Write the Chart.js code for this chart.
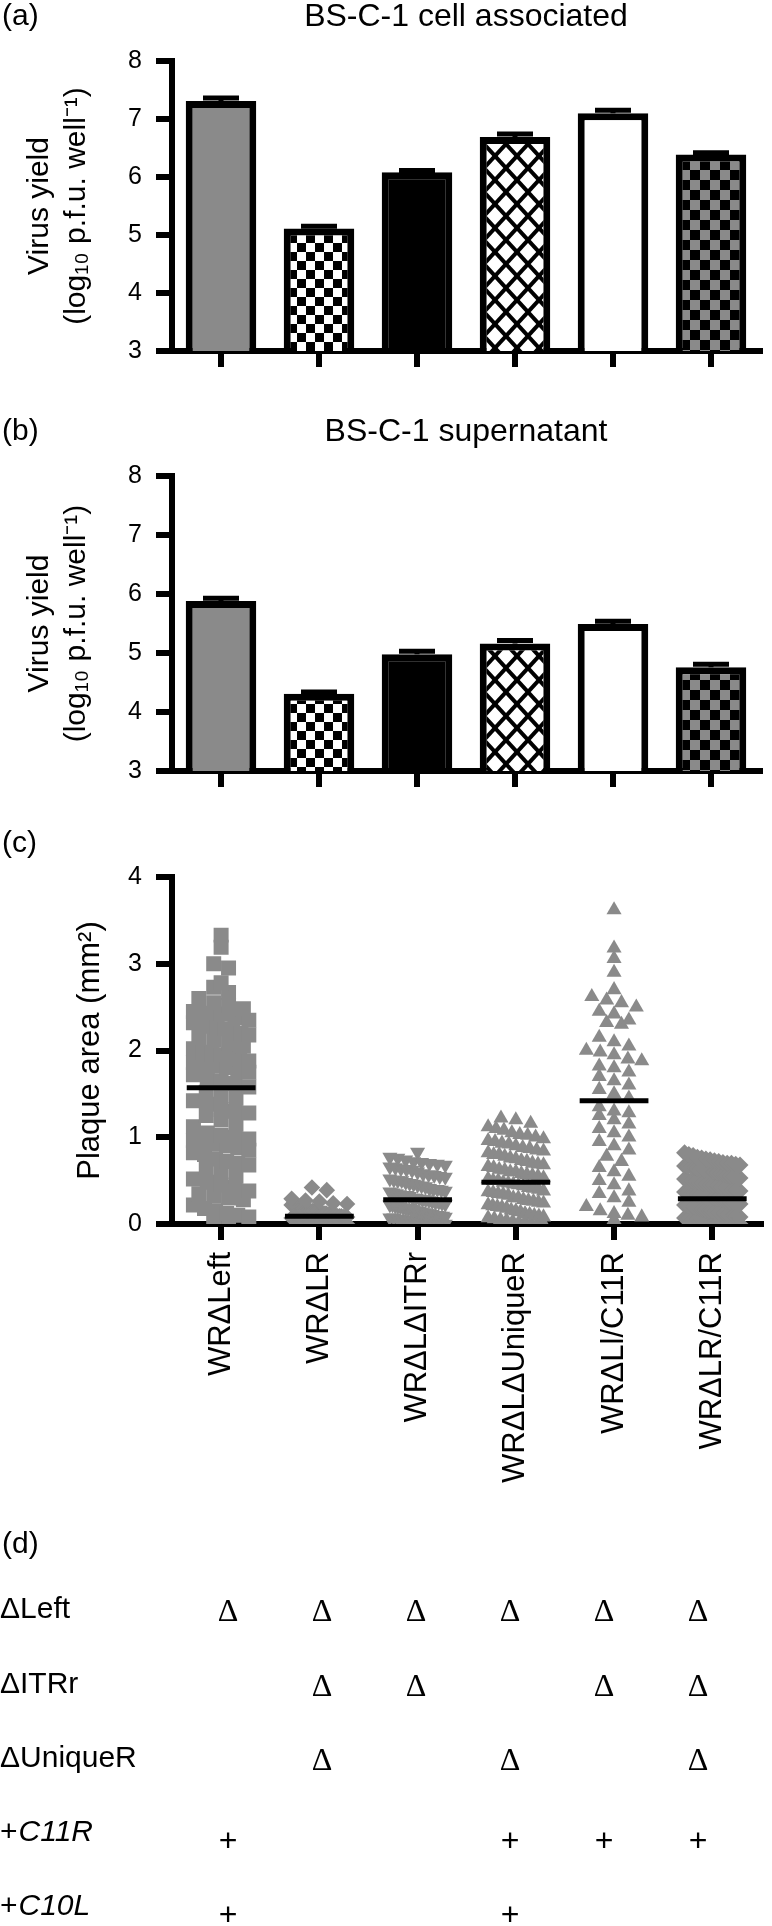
<!DOCTYPE html>
<html>
<head>
<meta charset="utf-8">
<script src="https://cdn.jsdelivr.net/npm/chart.js@4.4.1/dist/chart.umd.min.js"></script>
<style>
  html, body { margin: 0; padding: 0; background: #fff; }
  body { width: 772px; height: 1926px; position: relative; overflow: hidden; }
  canvas { position: absolute; left: 0; }
</style>
</head>
<body>
<canvas id="cellChart" width="772" height="380" style="top:0"></canvas>
<canvas id="supChart" width="772" height="420" style="top:380px"></canvas>
<canvas id="plaqueChart" width="772" height="700" style="top:800px"></canvas>
<canvas id="tableChart" width="772" height="426" style="top:1500px"></canvas>
<script>
const strains = ['WRΔLeft', 'WRΔLR', 'WRΔLΔITRr', 'WRΔLΔUniqueR', 'WRΔLl/C11R', 'WRΔLR/C11R'];

// (a) and (b): log10 virus yield, with SEM
const cellYield = [7.31, 5.11, 6.08, 6.69, 7.10, 6.39];
const cellErr = [0.05, 0.04, 0.03, 0.05, 0.05, 0.03];
const supYield = [5.88, 4.31, 4.98, 5.16, 5.49, 4.76];
const supErr = [0.05, 0.03, 0.05, 0.05, 0.05, 0.05];

// (c): plaque areas in mm2, one list per strain
const plaqueLeft = [3.33, 3.19, 3.0, 2.95, 2.78, 2.73, 2.67, 2.6, 2.55, 2.52, 2.48, 2.45, 2.43, 2.42,
  2.38, 2.35, 2.32, 2.3, 2.28, 2.27, 2.25, 2.22, 2.2, 2.18, 2.15, 2.12, 2.08, 2.05, 2.02, 1.98, 1.96,
  1.95, 1.92, 1.9, 1.88, 1.86, 1.85, 1.82, 1.8, 1.78, 1.75, 1.72, 1.68, 1.65, 1.62, 1.58, 1.52, 1.48,
  1.45, 1.42, 1.38, 1.32, 1.3, 1.28, 1.25, 1.2, 1.15, 1.12, 1.05, 1.02, 1.0, 0.98, 0.96, 0.95, 0.92,
  0.9, 0.88, 0.85, 0.82, 0.8, 0.75, 0.72, 0.7, 0.68, 0.65, 0.6, 0.55, 0.52, 0.48, 0.45, 0.42, 0.38,
  0.35, 0.32, 0.3, 0.28, 0.22, 0.18, 0.15, 0.12, 0.1, 0.08, 0.05, 0.03];
const plaqueLR = [0.42, 0.39, 0.29, 0.27, 0.26, 0.24, 0.23, 0.22, 0.21, 0.2, 0.2, 0.19, 0.18, 0.18,
  0.17, 0.16, 0.16, 0.15, 0.15, 0.14, 0.14, 0.13, 0.13, 0.12, 0.12, 0.12, 0.11, 0.11, 0.1, 0.1, 0.1,
  0.09, 0.09, 0.09, 0.08, 0.08, 0.08, 0.07, 0.07, 0.07, 0.06, 0.06, 0.06, 0.05, 0.05, 0.05, 0.05,
  0.04, 0.04, 0.04, 0.03, 0.03, 0.03, 0.03, 0.02, 0.02, 0.02, 0.02, 0.01, 0.01, 0.01, 0.01, 0.0,
  0.0, 0.0];
const plaqueITRr = [0.83, 0.77, 0.76, 0.74, 0.72, 0.71, 0.7, 0.69, 0.68, 0.66, 0.65, 0.64, 0.63, 0.62,
  0.6, 0.58, 0.57, 0.56, 0.55, 0.54, 0.52, 0.51, 0.5, 0.5, 0.48, 0.47, 0.46, 0.45, 0.44, 0.43, 0.41,
  0.4, 0.4, 0.39, 0.38, 0.37, 0.36, 0.35, 0.34, 0.33, 0.33, 0.32, 0.3, 0.3, 0.29, 0.28, 0.28, 0.27,
  0.26, 0.25, 0.25, 0.24, 0.23, 0.22, 0.22, 0.21, 0.2, 0.2, 0.19, 0.18, 0.18, 0.17, 0.16, 0.15, 0.15,
  0.14, 0.13, 0.12, 0.12, 0.11, 0.1, 0.1, 0.09, 0.09, 0.08, 0.07, 0.07, 0.06, 0.05, 0.05, 0.04, 0.04,
  0.03, 0.03, 0.02, 0.02, 0.01, 0.01, 0.0, 0.0];
const plaqueUniqueR = [1.22, 1.2, 1.16, 1.12, 1.1, 1.08, 1.05, 1.03, 1.02, 1.0, 0.98, 0.96, 0.95, 0.93,
  0.92, 0.9, 0.88, 0.87, 0.85, 0.84, 0.82, 0.8, 0.8, 0.78, 0.76, 0.75, 0.73, 0.72, 0.7, 0.69, 0.68,
  0.66, 0.65, 0.63, 0.62, 0.6, 0.6, 0.58, 0.57, 0.56, 0.55, 0.53, 0.52, 0.5, 0.5, 0.48, 0.47, 0.46,
  0.45, 0.44, 0.42, 0.41, 0.4, 0.38, 0.37, 0.36, 0.35, 0.34, 0.33, 0.3, 0.3, 0.28, 0.27, 0.26, 0.25,
  0.24, 0.22, 0.21, 0.2, 0.19, 0.18, 0.16, 0.15, 0.14, 0.12, 0.11, 0.1, 0.09, 0.08, 0.07, 0.06, 0.05,
  0.04, 0.03, 0.02, 0.02, 0.01, 0.0, 0.0];
const plaqueC11R = [3.62, 3.18, 3.06, 2.9, 2.7, 2.62, 2.58, 2.55, 2.5, 2.45, 2.42, 2.35, 2.32, 2.3,
  2.15, 2.1, 2.05, 2.0, 1.98, 1.95, 1.9, 1.88, 1.82, 1.8, 1.75, 1.7, 1.65, 1.6, 1.55, 1.5, 1.45, 1.35,
  1.3, 1.28, 1.25, 1.2, 1.15, 1.1, 1.05, 1.0, 0.95, 0.9, 0.85, 0.78, 0.72, 0.65, 0.6, 0.55, 0.5, 0.45,
  0.38, 0.35, 0.3, 0.25, 0.2, 0.15, 0.12, 0.1, 0.08, 0.05];
const plaqueLRC11R = [0.82, 0.8, 0.79, 0.77, 0.76, 0.75, 0.74, 0.73, 0.72, 0.71, 0.7, 0.7, 0.69, 0.68,
  0.67, 0.66, 0.66, 0.65, 0.64, 0.63, 0.62, 0.61, 0.6, 0.6, 0.59, 0.58, 0.57, 0.56, 0.55, 0.55, 0.54,
  0.53, 0.52, 0.5, 0.5, 0.49, 0.48, 0.47, 0.46, 0.45, 0.45, 0.44, 0.43, 0.42, 0.41, 0.4, 0.39, 0.38,
  0.37, 0.36, 0.35, 0.35, 0.34, 0.33, 0.32, 0.31, 0.3, 0.3, 0.29, 0.28, 0.27, 0.26, 0.25, 0.25, 0.24,
  0.23, 0.22, 0.21, 0.2, 0.2, 0.19, 0.18, 0.17, 0.16, 0.15, 0.15, 0.14, 0.13, 0.12, 0.12, 0.11, 0.1,
  0.1, 0.09, 0.08, 0.07, 0.07, 0.06, 0.05, 0.05, 0.04, 0.03, 0.03, 0.02, 0.02, 0.01, 0.01, 0.0, 0.0];
const plaqueMeans = [1.57, 0.09, 0.28, 0.48, 1.42, 0.29];

// (d): genotype table
const rowLead = ['ΔLeft', 'ΔITRr', 'ΔUniqueR', '+', '+'];
const rowGene = ['', '', '', 'C11R', 'C10L'];
const genotype = [
  ['Δ', 'Δ', 'Δ', 'Δ', 'Δ', 'Δ'],
  ['', 'Δ', 'Δ', '', 'Δ', 'Δ'],
  ['', 'Δ', '', 'Δ', '', 'Δ'],
  ['+', '', '', '+', '+', '+'],
  ['+', '', '', '+', '', '']
];

Chart.defaults.font.family = "'Liberation Sans', Arial, sans-serif";
Chart.defaults.color = '#000';
Chart.defaults.animation = false;

const gray = '#8a8a8a';

function makePattern(w, h, paint) {
  const c = document.createElement('canvas');
  c.width = w;
  c.height = h;
  const g = c.getContext('2d');
  paint(g, w, h);
  return g.createPattern(c, 'repeat');
}
const checker = (a, b, s) => makePattern(2 * s, 2 * s, g => {
  g.fillStyle = a;
  g.fillRect(0, 0, 2 * s, 2 * s);
  g.fillStyle = b;
  g.fillRect(0, 0, s, s);
  g.fillRect(s, s, s, s);
});
const hatch = makePattern(22, 24, (g, w, h) => {
  g.fillStyle = '#fff';
  g.fillRect(0, 0, w, h);
  g.strokeStyle = '#000';
  g.lineWidth = 4;
  for (let k = -1; k <= 1; k++) {
    g.beginPath(); g.moveTo(k * w, 0); g.lineTo(k * w + w, h); g.stroke();
    g.beginPath(); g.moveTo(k * w + w, 0); g.lineTo(k * w, h); g.stroke();
  }
});
const barFills = [gray, checker('#fff', '#000', 9), '#000', hatch, '#fff', checker(gray, '#000', 10)];

// panel letter + centred title
const panelText = {
  id: 'panelText',
  afterDraw(chart, args, opts) {
    const { ctx, chartArea } = chart;
    ctx.save();
    ctx.fillStyle = '#000';
    ctx.textBaseline = 'middle';
    ctx.textAlign = 'left';
    ctx.font = "30px 'Liberation Sans'";
    ctx.fillText(opts.letter, 2, opts.letterY);
    if (opts.title) {
      ctx.font = "32px 'Liberation Sans'";
      ctx.textAlign = 'center';
      ctx.fillText(opts.title, (chartArea.left + chartArea.right) / 2, opts.titleY);
    }
    ctx.restore();
  }
};

const errorBars = {
  id: 'errorBars',
  afterDatasetsDraw(chart, args, opts) {
    const { ctx } = chart;
    const y = chart.scales.y;
    const values = chart.data.datasets[0].data;
    ctx.save();
    ctx.strokeStyle = '#000';
    ctx.lineWidth = 5;
    chart.getDatasetMeta(0).data.forEach((bar, i) => {
      const top = y.getPixelForValue(values[i] + opts.errors[i]);
      ctx.beginPath();
      ctx.moveTo(bar.x, y.getPixelForValue(values[i]));
      ctx.lineTo(bar.x, top);
      ctx.moveTo(bar.x - 18, top);
      ctx.lineTo(bar.x + 18, top);
      ctx.stroke();
    });
    ctx.restore();
  }
};

const meanLines = {
  id: 'meanLines',
  afterDatasetsDraw(chart, args, opts) {
    const { ctx, scales: { x, y } } = chart;
    ctx.save();
    ctx.strokeStyle = '#000';
    ctx.lineWidth = 5;
    opts.means.forEach((m, i) => {
      ctx.beginPath();
      ctx.moveTo(x.getPixelForValue(i - 0.35), y.getPixelForValue(m));
      ctx.lineTo(x.getPixelForValue(i + 0.35), y.getPixelForValue(m));
      ctx.stroke();
    });
    ctx.restore();
  }
};

const axisGrid = { drawOnChartArea: false, tickLength: 16, lineWidth: 6, color: '#000' };
const axisBorder = { display: true, width: 6, color: '#000' };

function yieldChart(id, values, errors, letter, title, letterY, padTop, xHeight) {
  return new Chart(document.getElementById(id), {
    type: 'bar',
    data: {
      labels: strains,
      datasets: [{
        data: values,
        backgroundColor: barFills,
        borderColor: '#000',
        borderWidth: 7,
        borderSkipped: false,
        barPercentage: 0.72,
        categoryPercentage: 1
      }]
    },
    options: {
      responsive: false,
      layout: { padding: { top: padTop, right: 12, left: 0, bottom: 0 } },
      plugins: {
        legend: { display: false },
        tooltip: { enabled: false },
        panelText: { letter: letter, letterY: letterY, title: title, titleY: letterY },
        errorBars: { errors: errors }
      },
      scales: {
        x: {
          grid: { ...axisGrid, offset: false },
          border: axisBorder,
          ticks: { display: false },
          afterFit: s => { s.height = xHeight; }
        },
        y: {
          min: 3,
          max: 8,
          ticks: { stepSize: 1, font: { size: 25 }, padding: 14 },
          grid: axisGrid,
          border: axisBorder,
          title: {
            display: true,
            text: ['Virus yield', '(log₁₀ p.f.u. well⁻¹)'],
            font: { size: 30, lineHeight: 1.23 },
            padding: { top: 21, bottom: 0 }
          },
          afterFit: s => { s.width = 172; }
        }
      }
    },
    plugins: [panelText, errorBars]
  });
}

yieldChart('cellChart', cellYield, cellErr, '(a)', 'BS-C-1 cell associated', 17, 61, 16);
yieldChart('supChart', supYield, supErr, '(b)', 'BS-C-1 supernatant', 52, 96, 22);

// column-scatter layout: values that fall in the same band are spread sideways
const pxPerUnit = 99.3;
function spread(values, center) {
  const bands = {};
  values.forEach(v => {
    const b = Math.round(v / 0.15);
    (bands[b] = bands[b] || []).push(v);
  });
  const pts = [];
  Object.values(bands).forEach(list => {
    const n = list.length;
    const step = n > 1 ? Math.min(15, 56 / (n - 1)) : 0;
    list.forEach((v, k) => pts.push({ x: center + (k - (n - 1) / 2) * step / pxPerUnit, y: v }));
  });
  return pts;
}

const plaqueGroups = [plaqueLeft, plaqueLR, plaqueITRr, plaqueUniqueR, plaqueC11R, plaqueLRC11R];
const marks = [
  { style: 'rect', r: 10.6, rot: 0 },
  { style: 'rectRot', r: 8.3, rot: 0 },
  { style: 'triangle', r: 8.7, rot: 180 },
  { style: 'triangle', r: 8.7, rot: 0 },
  { style: 'triangle', r: 8.7, rot: 0 },
  { style: 'rectRot', r: 8.5, rot: 0 }
];

new Chart(document.getElementById('plaqueChart'), {
  type: 'scatter',
  data: {
    datasets: plaqueGroups.map((vals, i) => ({
      data: spread(vals, i),
      pointStyle: marks[i].style,
      pointRadius: marks[i].r,
      pointRotation: marks[i].rot,
      pointBackgroundColor: gray,
      pointBorderWidth: 0
    }))
  },
  options: {
    responsive: false,
    layout: { padding: { top: 77, right: 4, left: 0, bottom: 0 } },
    plugins: {
      legend: { display: false },
      tooltip: { enabled: false },
      panelText: { letter: '(c)', letterY: 44 },
      meanLines: { means: plaqueMeans }
    },
    scales: {
      x: {
        type: 'linear',
        min: -0.5,
        max: 5.5,
        z: 1,
        afterBuildTicks: s => { s.ticks = strains.map((_, i) => ({ value: i })); },
        ticks: {
          callback: v => strains[v],
          autoSkip: false,
          minRotation: 90,
          maxRotation: 90,
          font: { size: 31 },
          padding: 12
        },
        grid: axisGrid,
        border: axisBorder,
        afterFit: s => { s.height = 276; }
      },
      y: {
        min: 0,
        max: 4,
        ticks: { stepSize: 1, font: { size: 25 }, padding: 14 },
        grid: axisGrid,
        border: axisBorder,
        title: {
          display: true,
          text: 'Plaque area (mm²)',
          font: { size: 31, lineHeight: 1.2 },
          padding: { top: 72, bottom: 0 }
        },
        afterFit: s => { s.width = 172; }
      }
    }
  },
  plugins: [panelText, meanLines]
});

// (d) genotype table laid out on category scales
const genotypeTable = {
  id: 'genotypeTable',
  afterDraw(chart) {
    const { ctx, scales: { x, y } } = chart;
    ctx.save();
    ctx.fillStyle = '#000';
    ctx.textBaseline = 'middle';
    rowLead.forEach((lead, r) => {
      const py = y.getPixelForValue(r);
      ctx.textAlign = 'left';
      ctx.font = "30px 'Liberation Sans'";
      ctx.fillText(lead, 0, py);
      if (rowGene[r]) {
        const w = ctx.measureText(lead).width;
        ctx.font = "italic 30px 'Liberation Sans'";
        ctx.fillText(rowGene[r], w + 1, py);
      }
      ctx.textAlign = 'center';
      genotype[r].forEach((mark, c) => {
        if (!mark) return;
        const px = x.getPixelForValue(c);
        if (mark === 'Δ') {
          ctx.font = "32px 'Liberation Serif'";
          ctx.fillText(mark, px, py + 3);
        } else {
          ctx.font = "32px 'Liberation Sans'";
          ctx.fillText(mark, px, py + 9);
        }
      });
    });
    ctx.restore();
  }
};

new Chart(document.getElementById('tableChart'), {
  type: 'scatter',
  data: { datasets: [] },
  options: {
    responsive: false,
    layout: { padding: { top: 110, right: 27, left: 181, bottom: 19 } },
    plugins: {
      legend: { display: false },
      tooltip: { enabled: false },
      panelText: { letter: '(d)', letterY: 45 }
    },
    scales: {
      x: { type: 'category', labels: strains, offset: true, display: false },
      y: { type: 'category', labels: rowLead, offset: false, display: false }
    }
  },
  plugins: [panelText, genotypeTable]
});
</script>
</body>
</html>
